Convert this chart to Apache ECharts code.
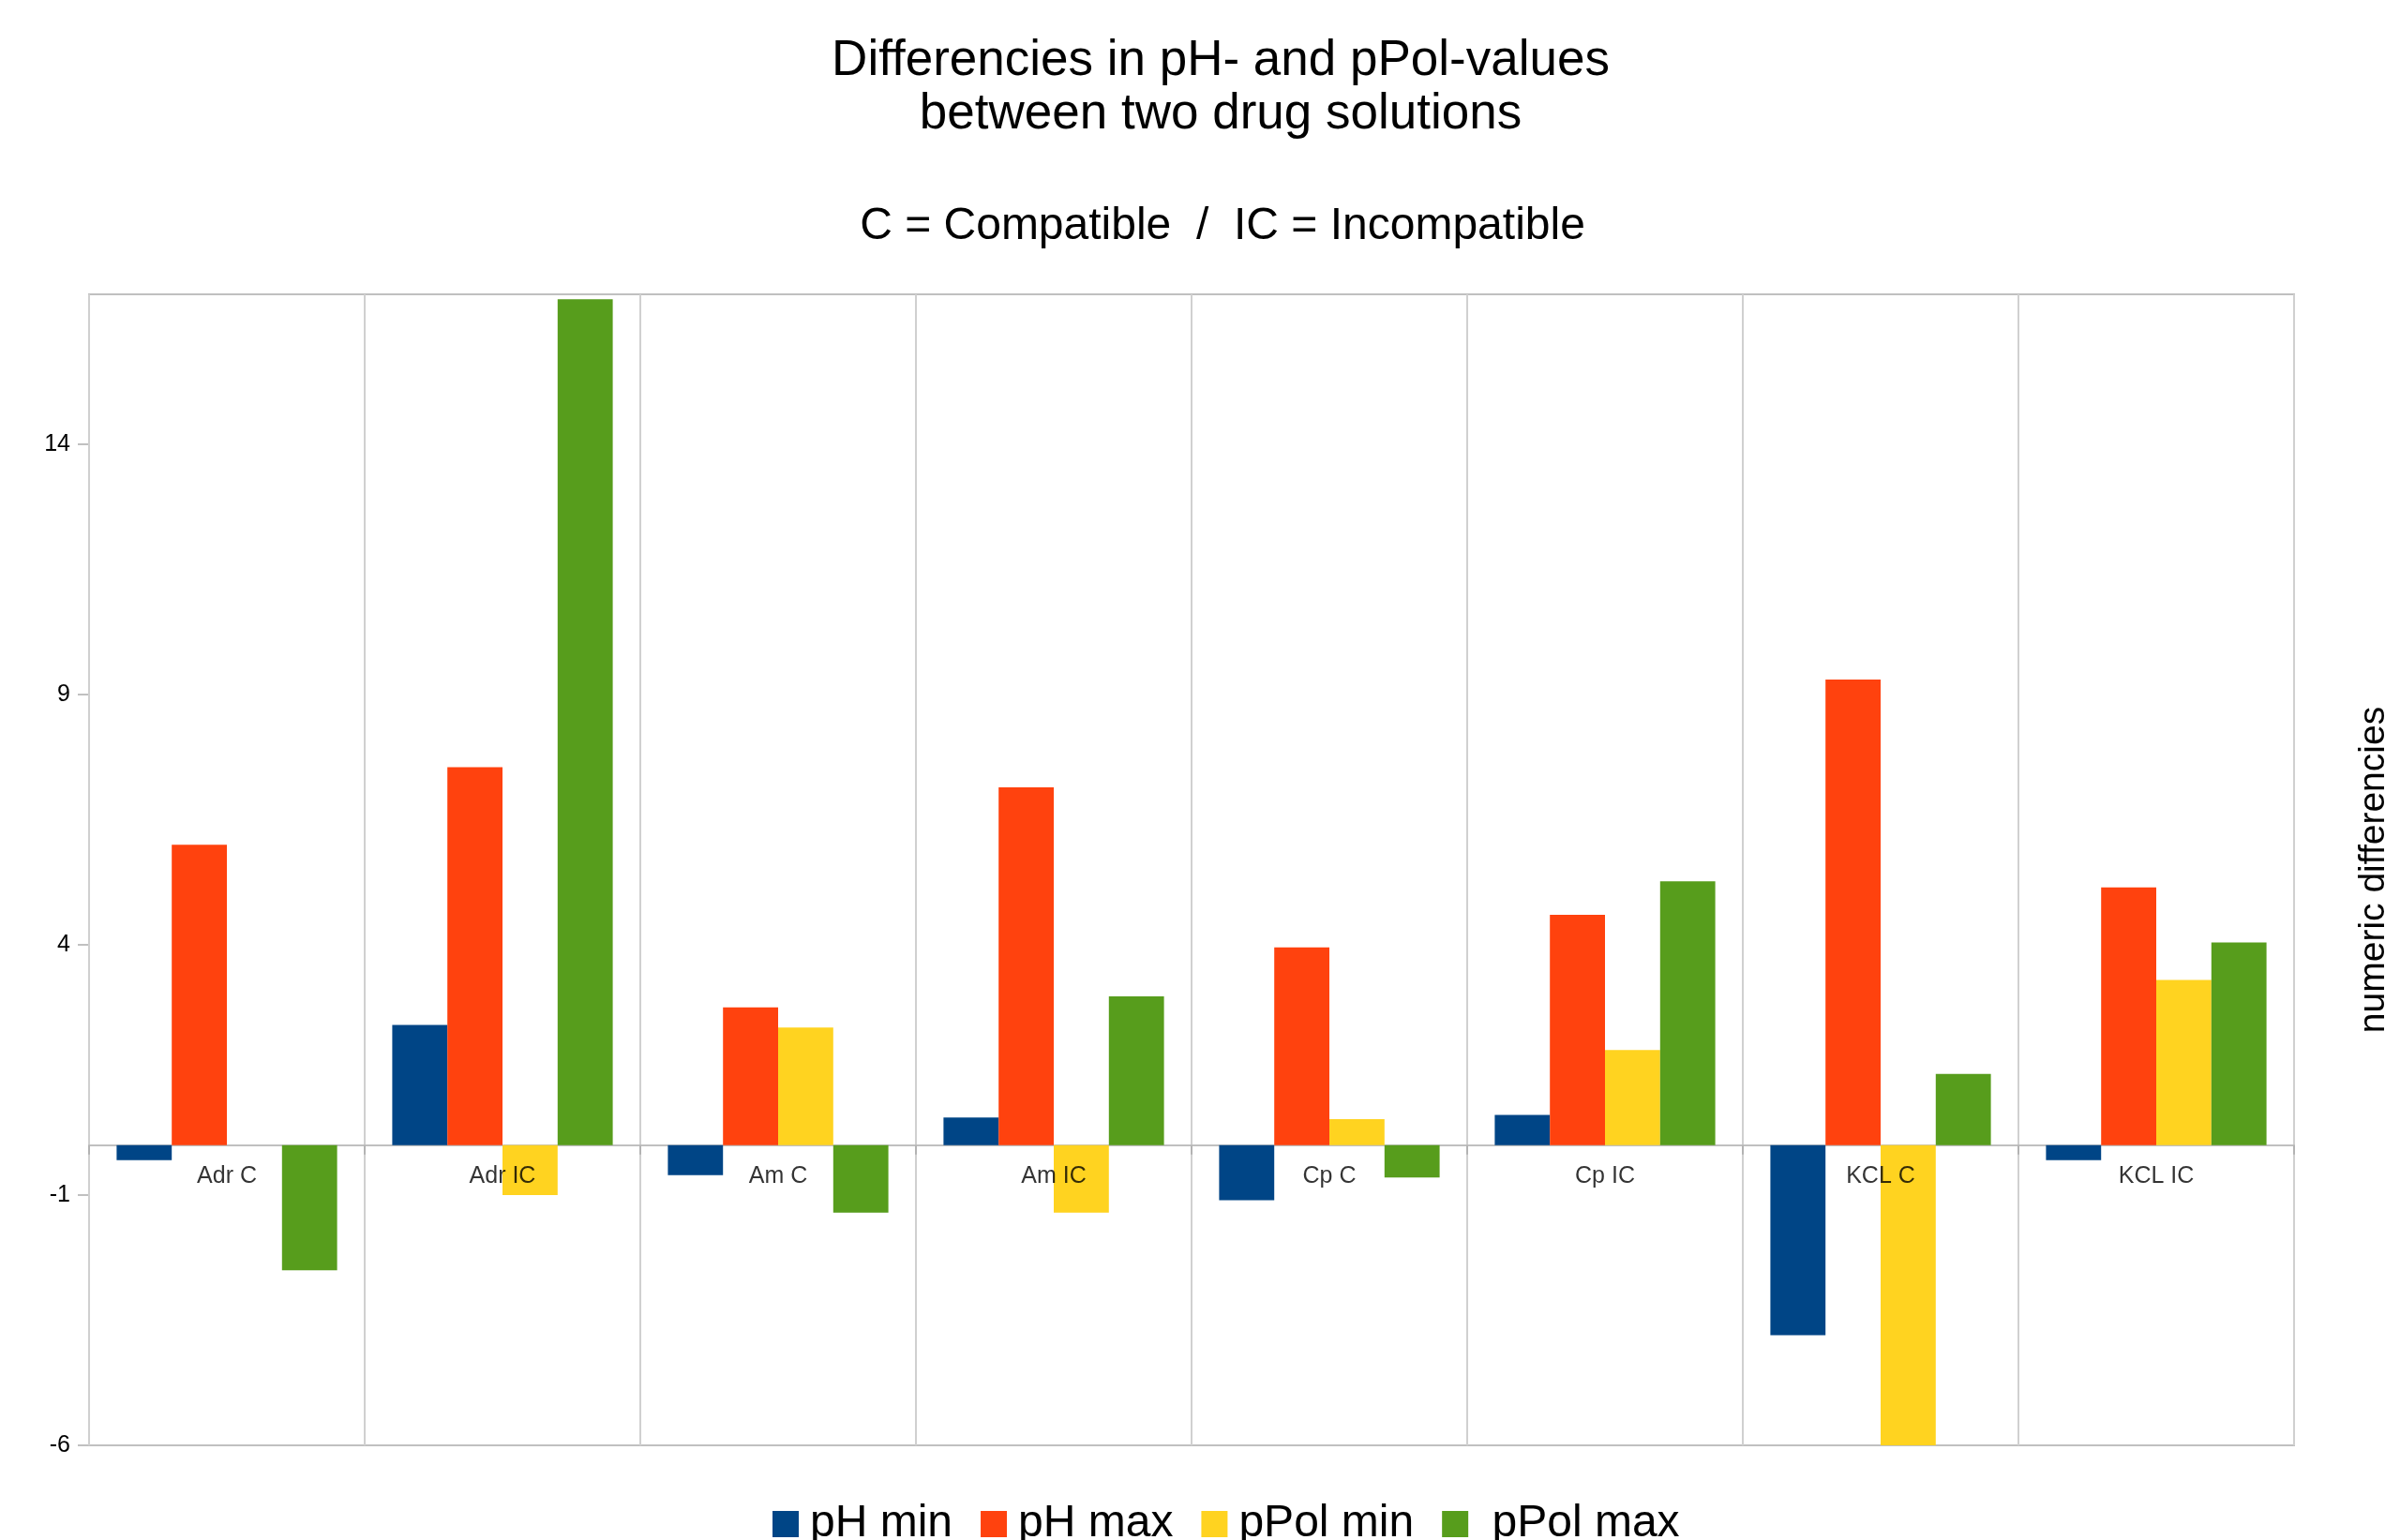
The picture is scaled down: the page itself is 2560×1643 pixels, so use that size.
<!DOCTYPE html>
<html>
<head>
<meta charset="utf-8">
<script src="https://cdn.jsdelivr.net/npm/echarts@6/dist/echarts.min.js"></script>
<style>
  html, body { margin: 0; padding: 0; background: #ffffff; }
  #chart { width: 2560px; height: 1643px; }
</style>
</head>
<body>
<div id="chart"></div>
<script>
const categories = ['Adr C', 'Adr IC', 'Am C', 'Am IC', 'Cp C', 'Cp IC', 'KCL C', 'KCL IC'];
const seriesNames = ['pH min', 'pH max', 'pPol min', 'pPol max'];
const pHMin   = [-0.3, 2.4, -0.6, 0.55, -1.1, 0.6, -3.8, -0.3];
const pHMax   = [6.0, 7.55, 2.75, 7.15, 3.95, 4.6, 9.3, 5.15];
const pPolMin = [0, -1.0, 2.35, -1.35, 0.52, 1.9, -6.0, 3.3];
const pPolMax = [-2.5, 16.9, -1.35, 2.97, -0.65, 5.27, 1.42, 4.05];
const yTicks  = [-6, -1, 4, 9, 14];
const labelBase = [0, 0, 0, 0, 0, 0, 0, 0];

const colors = ['#004586', '#ff420e', '#ffd320', '#579d1c'];
const FONT = 'Liberation Sans, Arial, sans-serif';
const gray = '#c0c0c0';

const chart = echarts.init(document.getElementById('chart'), null, { renderer: 'canvas' });

const values = [pHMin, pHMax, pPolMin, pPolMax];

const barSeries = seriesNames.map(function (name, i) {
  return {
    name: name,
    type: 'bar',
    yAxisIndex: 0,
    data: values[i],
    barGap: '0%',
    barCategoryGap: '20%',
    itemStyle: { color: colors[i] }
  };
});

const labelSeries = {
  name: 'category labels',
  type: 'scatter',
  yAxisIndex: 0,
  data: labelBase,
  symbolSize: 0,
  silent: true,
  z: 10,
  label: {
    show: true,
    position: 'bottom',
    distance: 21,
    formatter: function (p) { return categories[p.dataIndex]; },
    fontFamily: FONT,
    fontSize: 25,
    color: '#000000'
  }
};

const option = {
  backgroundColor: '#ffffff',
  animation: false,
  color: colors,
  textStyle: { fontFamily: FONT },
  title: [
    {
      text: 'Differencies in pH- and pPol-values\nbetween two drug solutions',
      left: 1302,
      top: 37,
      padding: 0,
      textAlign: 'center',
      textStyle: { fontFamily: FONT, fontSize: 53, lineHeight: 57, fontWeight: 'normal', color: '#000000' }
    },
    {
      text: 'C = Compatible  /  IC = Incompatible',
      left: 1304,
      top: 218,
      padding: 0,
      textAlign: 'center',
      textStyle: { fontFamily: FONT, fontSize: 48, lineHeight: 48, fontWeight: 'normal', color: '#000000' }
    }
  ],
  legend: {
    left: 824,
    top: 1602,
    padding: 0,
    icon: 'rect',
    itemWidth: 28,
    itemHeight: 28,
    itemGap: 30,
    formatter: function (name) { return name === 'pPol max' ? ' ' + name : name; },
    textStyle: { fontFamily: FONT, fontSize: 48, color: '#000000', padding: [0, 0, 0, 7] },
    data: seriesNames
  },
  grid: {
    left: 95,
    right: 113,
    top: 314,
    bottom: 101,
    show: true,
    borderColor: gray,
    borderWidth: 2,
    backgroundColor: '#ffffff',
    containLabel: false
  },
  xAxis: {
    type: 'category',
    data: categories,
    z: 1,
    axisLine: { show: true, onZero: true, lineStyle: { color: gray, width: 2 } },
    axisTick: { show: true, length: 10, lineStyle: { color: '#b3b3b3', width: 2 } },
    axisLabel: { show: false },
    splitLine: { show: true, lineStyle: { color: '#d0d0d0', width: 2 } }
  },
  yAxis: [
    {
      type: 'value',
      min: -6,
      max: 17,
      interval: 5,
      axisLine: { show: false },
      axisTick: { show: true, length: 12, customValues: yTicks, lineStyle: { color: gray, width: 2 } },
      axisLabel: { fontFamily: FONT, fontSize: 25, color: '#000000', margin: 20, customValues: yTicks },
      splitLine: { show: false }
    },
    {
      type: 'value',
      position: 'right',
      min: -6,
      max: 17,
      interval: 5,
      name: 'numeric differencies',
      nameLocation: 'middle',
      nameRotate: 90,
      nameGap: 66,
      nameTextStyle: { fontFamily: FONT, fontSize: 39, color: '#000000' },
      axisLine: { show: false },
      axisTick: { show: false },
      axisLabel: { show: false },
      splitLine: { show: false }
    }
  ],
  series: barSeries.concat([labelSeries])
};

chart.setOption(option);
</script>
</body>
</html>
